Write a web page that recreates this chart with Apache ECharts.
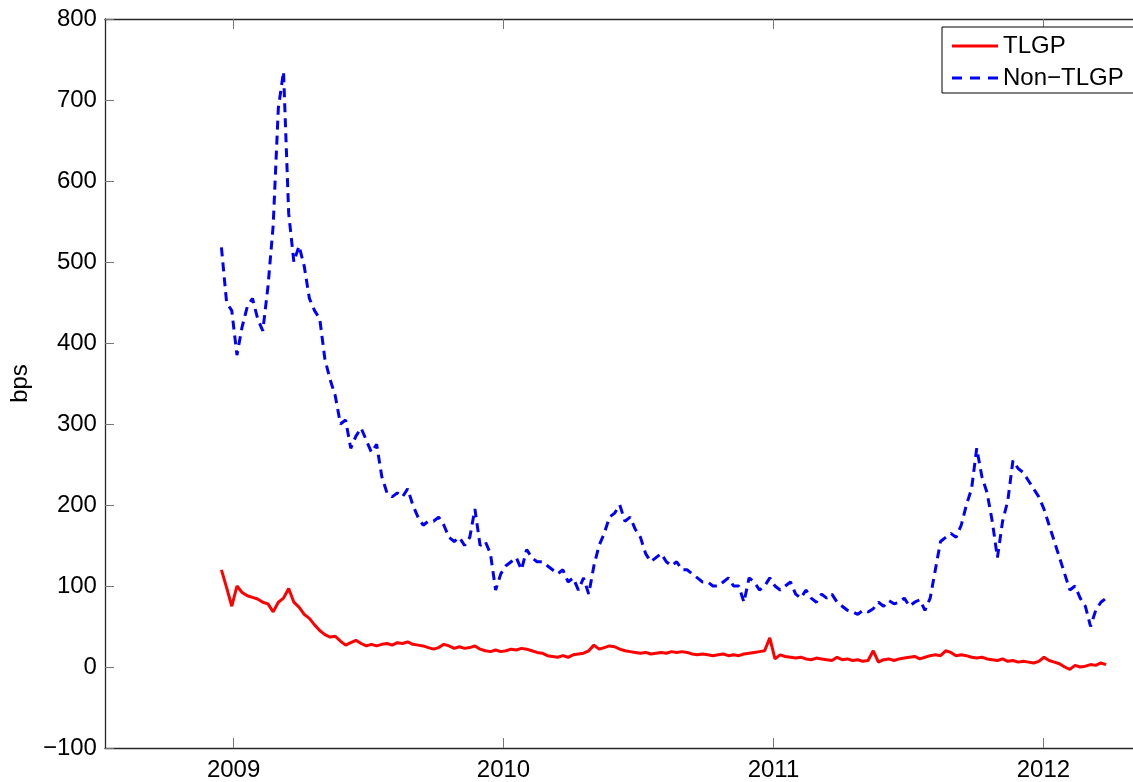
<!DOCTYPE html>
<html>
<head>
<meta charset="utf-8">
<script src="https://cdn.jsdelivr.net/npm/echarts@6/dist/echarts.min.js"></script>
<style>
html,body{margin:0;padding:0;background:#fff;}
#chart{width:1133px;height:782px;}
</style>
</head>
<body>
<div id="chart"></div>
<script>
// Weekly observations starting mid-December 2008 (decimal year)
const startYear = 2008.955;
const weekStep = 7 / 365.25;
const yearTicks = [2009, 2010, 2011, 2012];
const seriesNames = ['TLGP', 'Non\u2212TLGP'];

const tlgp = [
 120, 98, 75, 100, 92, 88, 86, 84, 80, 78, 68, 80, 85, 97, 80, 74, 65, 60, 52, 45,
 40, 37, 38, 32, 27, 30, 33, 29, 26, 28, 26, 28, 29, 27, 30, 29, 31, 28, 27, 26,
 24, 22, 24, 28, 26, 23, 25, 23, 24, 26, 22, 20, 19, 21, 19, 20, 22, 21, 23, 22,
 20, 18, 17, 14, 13, 12, 14, 12, 15, 16, 17, 20, 27, 22, 24, 26, 25, 22, 20, 19,
 18, 17, 18, 16, 17, 18, 17, 19, 18, 19, 18, 16, 15, 16, 15, 14, 15, 16, 14, 15,
 14, 16, 17, 18, 19, 20, 36, 10, 15, 13, 12, 11, 12, 10, 9, 11, 10, 9, 8, 12,
 9, 10, 8, 9, 7, 8, 20, 6, 9, 10, 8, 10, 11, 12, 13, 10, 12, 14, 15, 14,
 20, 18, 14, 15, 14, 12, 11, 12, 10, 9, 8, 10, 7, 8, 6, 7, 6, 5, 7, 12,
 8, 6, 4, 0, -3, 2, 0, 1, 3, 2, 5, 3
];

const nonTlgp = [
 518, 450, 440, 385, 420, 445, 455, 430, 415, 470, 545, 690, 735, 560, 500, 520, 495, 455, 440, 430,
 380, 355, 335, 300, 305, 270, 285, 295, 280, 265, 275, 235, 215, 210, 215, 210, 220, 200, 185, 175,
 180, 180, 185, 175, 160, 155, 160, 150, 160, 195, 150, 155, 140, 95, 115, 125, 130, 135, 120, 145,
 135, 130, 130, 125, 120, 115, 120, 105, 110, 95, 110, 90, 125, 150, 165, 185, 190, 200, 180, 185,
 170, 160, 140, 130, 135, 140, 130, 125, 130, 120, 120, 115, 110, 105, 105, 100, 100, 105, 110, 100,
 100, 80, 110, 105, 95, 100, 110, 100, 95, 100, 105, 90, 85, 95, 85, 80, 90, 85, 90, 80,
 75, 70, 68, 65, 70, 68, 72, 80, 75, 82, 78, 80, 85, 75, 80, 83, 70, 85, 120, 155,
 160, 165, 160, 175, 200, 220, 270, 235, 215, 180, 135, 180, 205, 255, 245, 240, 230, 220, 210, 195,
 175, 155, 135, 115, 95, 100, 85, 75, 50, 70, 80, 85
];

const toPairs = arr => arr.map((v, i) => [startYear + i * weekStep, v]);

const fontFamily = '"Liberation Sans", Arial, Helvetica, sans-serif';
const axisColor = '#262626';
const minus = v => String(v).replace('-', '\u2212');

const xMin = 2008.5235, xMax = 2012.332;
const solidIcon = 'path://M0,0h46v3h-46z';
const dashIcon = 'path://M0,0h10v3h-10zM18,0h10v3h-10zM36,0h10v3h-10z';

const chart = echarts.init(document.getElementById('chart'), null, {renderer: 'canvas'});
chart.setOption({
  animation: false,
  backgroundColor: '#fff',
  textStyle: {fontFamily: fontFamily},
  grid: {left: 104, top: 19, right: -2, bottom: 34, containLabel: false},
  legend: {
    show: true,
    orient: 'vertical',
    left: 942,
    top: 27,
    padding: [7, 12, 3, 10],
    itemWidth: 46,
    itemHeight: 3,
    itemGap: 8,
    itemTextGap: 8,
    borderColor: '#000',
    borderWidth: 1,
    backgroundColor: '#fff',
    borderRadius: 0,
    textStyle: {fontSize: 24, color: '#000', fontFamily: fontFamily, lineHeight: 24},
    data: [
      {name: seriesNames[0], icon: solidIcon, itemStyle: {color: '#ff0000'}},
      {name: seriesNames[1], icon: dashIcon, itemStyle: {color: '#0000ff'}}
    ]
  },
  xAxis: [
    {
      type: 'value', min: xMin, max: xMax, position: 'bottom',
      axisLine: {show: true, onZero: false, lineStyle: {color: axisColor, width: 1.3}},
      axisTick: {show: true, inside: true, length: 10, customValues: yearTicks, lineStyle: {color: '#777', width: 1}},
      axisLabel: {show: true, customValues: yearTicks, fontSize: 24, color: '#000', margin: 10, formatter: v => String(Math.round(v))},
      splitLine: {show: false}
    },
    {
      type: 'value', min: xMin, max: xMax, position: 'top',
      axisLine: {show: true, onZero: false, lineStyle: {color: axisColor, width: 1.3}},
      axisTick: {show: true, inside: true, length: 10, customValues: yearTicks, lineStyle: {color: '#777', width: 1}},
      axisLabel: {show: false},
      splitLine: {show: false}
    }
  ],
  yAxis: [
    {
      type: 'value', min: -100, max: 800, interval: 100,
      name: 'bps', nameLocation: 'middle', nameGap: 65, nameRotate: 90,
      nameTextStyle: {fontSize: 24, color: '#000', fontFamily: fontFamily},
      axisLine: {show: true, onZero: false, lineStyle: {color: axisColor, width: 1.3}},
      axisTick: {show: true, inside: true, length: 9, lineStyle: {color: '#777', width: 1}},
      axisLabel: {fontSize: 24, color: '#000', margin: 8, formatter: minus},
      splitLine: {show: false}
    }
  ],
  series: [
    {
      name: seriesNames[0], type: 'line', data: toPairs(tlgp),
      showSymbol: false, symbol: 'none',
      lineStyle: {color: '#ff0000', width: 3},
      itemStyle: {color: '#ff0000'},
      z: 3
    },
    {
      name: seriesNames[1], type: 'line', data: toPairs(nonTlgp),
      showSymbol: false, symbol: 'none',
      lineStyle: {color: '#0000ff', width: 3, type: [9, 6]},
      itemStyle: {color: '#0000ff'},
      z: 2
    }
  ]
});
</script>
</body>
</html>
